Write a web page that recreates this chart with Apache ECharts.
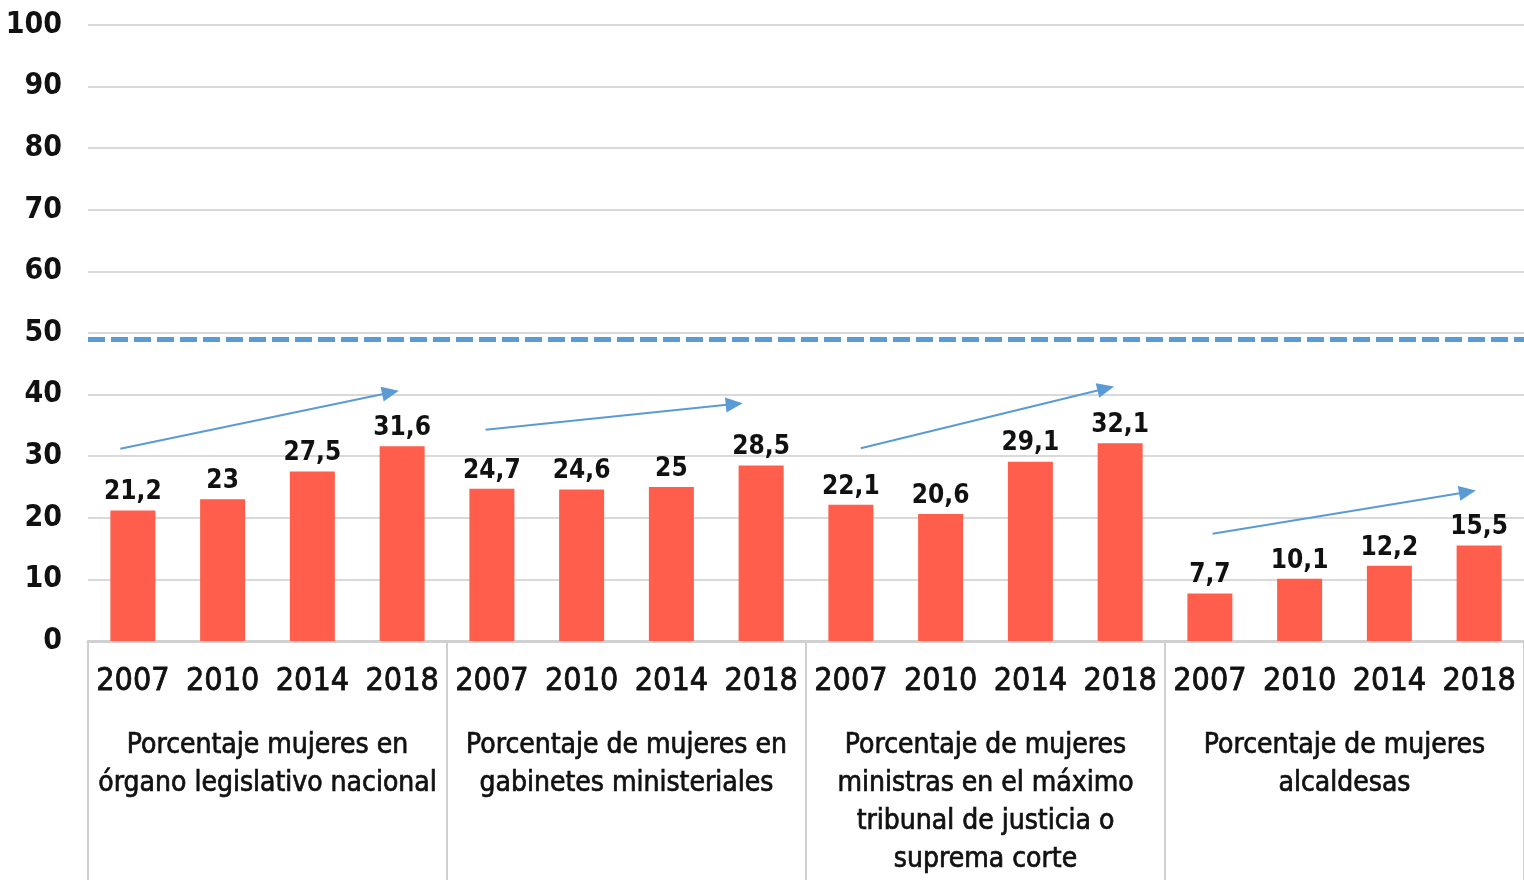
<!DOCTYPE html>
<html>
<head>
<meta charset="utf-8">
<script src="https://cdn.jsdelivr.net/npm/echarts@6/dist/echarts.min.js"></script>
<style>
  html, body { margin: 0; padding: 0; background: #fff; }
  #chart { width: 1524px; height: 880px; }
</style>
</head>
<body>
<div id="chart"></div>
<script>
const years = ['2007', '2010', '2014', '2018', '2007', '2010', '2014', '2018',
  '2007', '2010', '2014', '2018', '2007', '2010', '2014', '2018']
const groups = [
  'Porcentaje mujeres en\nórgano legislativo nacional',
  'Porcentaje de mujeres en\ngabinetes ministeriales',
  'Porcentaje de mujeres\nministras en el máximo\ntribunal de justicia o\nsuprema corte',
  'Porcentaje de mujeres\nalcaldesas'
]
const values = [21.2, 23, 27.5, 31.6, 24.7, 24.6, 25, 28.5, 22.1, 20.6, 29.1, 32.1, 7.7, 10.1, 12.2, 15.5]
// trend arrows: [xStart, yStart, xEnd, yEnd] in category-index / percent units
const trendArrows = [
  [-0.14, 31.2, 2.87, 40.35],
  [3.93, 34.3, 6.70, 38.46],
  [8.11, 31.3, 10.84, 41.0],
  [12.03, 17.4, 14.87, 24.2]
]
const parityLine = 49

const font = "'Liberation Sans Narrow', 'DejaVu Sans Condensed', sans-serif"
const blue = '#5B9BD5'

const chart = echarts.init(document.getElementById('chart'))
const option = {
  animation: false,
  grid: { left: 88, top: 25, width: 1440, height: 616 },
  xAxis: [{
    type: 'category',
    data: years,
    position: 'bottom',
    axisTick: { show: false },
    axisLine: { lineStyle: { color: '#d0d0d0', width: 3 } },
    axisLabel: {
      interval: 0, margin: 22, fontFamily: font, fontSize: 32,
      lineHeight: 38, color: '#111', textBorderColor: '#111', textBorderWidth: 0.8
    }
  }, {
    type: 'category',
    data: groups,
    position: 'bottom',
    axisLine: { show: false },
    axisTick: { show: true, length: 240, lineStyle: { color: '#d0d0d0', width: 2 } },
    axisLabel: {
      interval: 0, margin: 86, fontFamily: font, fontSize: 28,
      lineHeight: 38, color: '#111', align: 'center',
      textBorderColor: '#111', textBorderWidth: 0.7
    }
  }, {
    type: 'value',
    min: -0.5,
    max: 15.5,
    show: false
  }],
  yAxis: {
    type: 'value',
    min: 0,
    max: 100,
    interval: 10,
    axisLine: { show: false },
    axisTick: { show: false },
    axisLabel: { fontFamily: font, fontSize: 30, fontWeight: 'bold', color: '#111', margin: 26, padding: [4, 0, 0, 0] },
    splitLine: { lineStyle: { color: '#d9d9d9', width: 2 } }
  },
  series: [{
    type: 'bar',
    data: values,
    barWidth: 45,
    itemStyle: { color: '#FE5E4B' },
    label: {
      show: true,
      position: 'top',
      distance: 5,
      fontFamily: font,
      fontSize: 26,
      fontWeight: 'bold',
      color: '#111',
      formatter: p => String(p.value).replace('.', ',')
    }
  }, {
    type: 'line',
    xAxisIndex: 2,
    data: [[0, 0]],
    symbol: 'none',
    clip: false,
    lineStyle: { opacity: 0 },
    silent: true,
    markLine: {
      silent: true,
      label: { show: false },
      data: [
        [{ coord: [-0.5, parityLine], symbol: 'none',
            lineStyle: { color: blue, width: 5, type: [17, 6] } },
          { coord: [15.5, parityLine], symbol: 'none' }]
      ].concat(trendArrows.map(a => [
        { coord: [a[0], a[1]], symbol: 'none' },
        { coord: [a[2], a[3]], symbol: 'triangle', symbolSize: [15, 17] }
      ])),
      lineStyle: { color: blue, width: 2, type: 'solid' }
    }
  }]
}
chart.setOption(option)
</script>
</body>
</html>
